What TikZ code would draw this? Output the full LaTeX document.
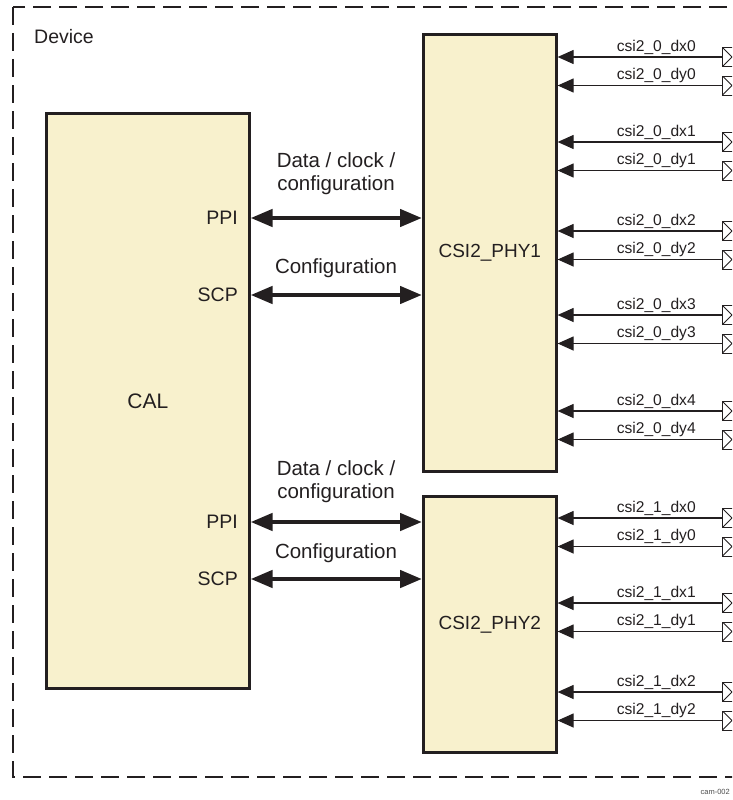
\documentclass[tikz,border=0pt]{standalone}
\usepackage{fontspec}
\setmainfont{Liberation Sans}
\usetikzlibrary{arrows.meta}
\definecolor{blockfill}{HTML}{F8F1CD}
\definecolor{inkgray}{HTML}{231F20}
\begin{document}
\begin{tikzpicture}[x=1pt,y=-1pt,block/.style={draw=inkgray, line width=2.6pt, fill=blockfill, inner sep=0pt, font=\fontsize{19}{23}\selectfont, text=inkgray},frame/.style={draw=inkgray, line width=2.6pt, dash pattern=on 18pt off 8pt},bus/.style={draw=inkgray, line width=4.5pt, {Triangle[length=22pt,width=17pt]}-{Triangle[length=22pt,width=17pt]}},sig/.style={draw=inkgray, line width=1.2pt, -{Triangle[length=16pt,width=14pt]}},pad/.style={draw=inkgray, line width=1pt, fill=white, minimum size=19pt, inner sep=0pt, path picture={\draw[inkgray, line width=0.8pt] (path picture bounding box.north west) -- (path picture bounding box.south east) (path picture bounding box.south west) -- (path picture bounding box.north east);}},siglabel/.style={font=\fontsize{15.6}{18}\selectfont, text=inkgray, inner sep=1pt, text depth=4pt, above, pos=0.4},portlabel/.style={font=\fontsize{19.5}{23}\selectfont, text=inkgray, anchor=east, inner sep=0pt},buslabel/.style={font=\fontsize{20.5}{23}\selectfont, text=inkgray, align=center, inner sep=0pt}]
\useasboundingbox (0,0) rectangle (732,800); \clip (0,0) rectangle (732,800);
\draw[frame] (13,7) rectangle (770,777);
\node[anchor=west, font=\fontsize{19.5}{22}\selectfont, text=inkgray, inner sep=0pt] (device) at (34,37) {Device};
\node[block, anchor=north west, minimum width=203pt, minimum height=575pt, font=\fontsize{21}{23}\selectfont] (cal) at (45,112) {CAL};
\node[block, anchor=north west, minimum width=133pt, minimum height=437pt] (phy1) at (422,33) {CSI2\_PHY1};
\node[block, anchor=north west, minimum width=133pt, minimum height=256pt] (phy2) at (422,495) {CSI2\_PHY2};
\node[portlabel] (ppi1) at (238,218) {PPI}; \node[portlabel] (scp1) at (238,295) {SCP};
\node[portlabel] (ppi2) at (238,522) {PPI}; \node[portlabel] (scp2) at (238,579) {SCP};
\node[buslabel] (data1) at (336,174) {Data / clock /\\configuration}; \node[buslabel] (conf1) at (336,268) {Configuration};
\node[buslabel] (data2) at (336,482) {Data / clock /\\configuration}; \node[buslabel] (conf2) at (336,553) {Configuration};
\draw[bus] (cal.east |- ppi1) -- (phy1.west |- ppi1); \draw[bus] (cal.east |- scp1) -- (phy1.west |- scp1);
\draw[bus] (cal.east |- ppi2) -- (phy2.west |- ppi2); \draw[bus] (cal.east |- scp2) -- (phy2.west |- scp2);
\foreach \n/\y in {0/57,1/142,2/231,3/315,4/411}{
  \node[pad] (p0x\n) at (732,\y) {}; \node[pad] (p0y\n) at (732,\y+28.5) {};
  \draw[sig] (p0x\n.west) -- (phy1.east |- p0x\n.west) node[siglabel] {csi2\_0\_dx\n};
  \draw[sig] (p0y\n.west) -- (phy1.east |- p0y\n.west) node[siglabel] {csi2\_0\_dy\n};
}
\foreach \n/\y in {0/518,1/603,2/692}{
  \node[pad] (p1x\n) at (732,\y) {}; \node[pad] (p1y\n) at (732,\y+28.5) {};
  \draw[sig] (p1x\n.west) -- (phy2.east |- p1x\n.west) node[siglabel] {csi2\_1\_dx\n};
  \draw[sig] (p1y\n.west) -- (phy2.east |- p1y\n.west) node[siglabel] {csi2\_1\_dy\n};
}
\node[anchor=east, font=\fontsize{7.5}{9}\selectfont, text=black!70, inner sep=0pt] (figid) at (730,792) {cam-002};
\end{tikzpicture}
\end{document}
